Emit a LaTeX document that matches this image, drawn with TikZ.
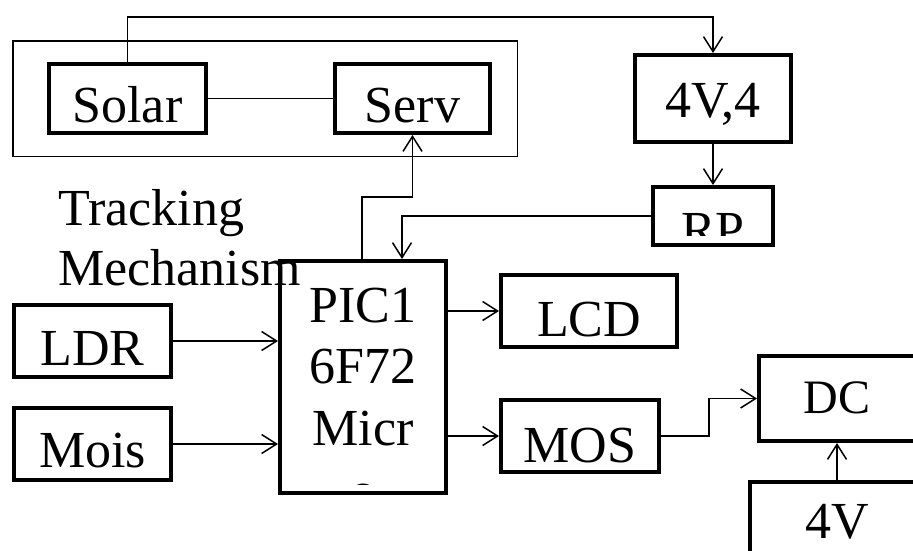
\documentclass[tikz,border=0pt]{standalone}
\usepackage{fontspec}
\setmainfont{Liberation Serif}
\usetikzlibrary{arrows.meta}

\tikzset{
  big/.style={font=\fontsize{52}{61}\selectfont},
  blk/.style={draw, line width=4pt, inner sep=0pt, big},
  wire/.style={line width=1.5pt},
  arr/.style={wire, -{Straight Barb[length=15pt,width=19pt,line width=1.5pt]}},
}

\begin{document}
\begin{tikzpicture}[x=1pt, y=-1pt]
\useasboundingbox (0,0) rectangle (913,550);
\clip (0,0) rectangle (913,550);

%% Tracking Mechanism %%%%%%%%%%%%%%%%%%%%%%%
\draw[wire] (12.75,40.75) rectangle (517.25,156.25);

\node[blk, minimum width=157pt, text height=58pt, text depth=11pt] (solar) at (127.5,98.5) {Solar};
\node[blk, minimum width=155pt, text height=58pt, text depth=11pt] (serv) at (412.5,98.5) {Serv};

\node[big, anchor=base west, inner sep=0pt] (track) at (58,225) {Tracking};
\node[big, anchor=base west, inner sep=0pt] (mech) at (58,285) {Mechanism};

%% Supply %%%%%%%%%%%%%%%%%%%%%%%
\node[blk, minimum width=156pt, text height=62pt, text depth=25pt] (supply) at (713,98.5) {4V,4};
\node[blk, minimum width=120pt, minimum height=58pt] (rp) at (713,216) {};
\begin{scope}
  \clip (655,189) rectangle (771,235);
  \node[big, anchor=base, inner sep=0pt] (rplabel) at (713,247) {RP};
\end{scope}

%% Controller %%%%%%%%%%%%%%%%%%%%%%%
\node[blk, minimum width=166pt, minimum height=232pt] (pic) at (363,377) {};
\node[big, anchor=base, inner sep=0pt] (picA) at (363,322) {PIC1};
\node[big, anchor=base, inner sep=0pt] (picB) at (363,383) {6F72};
\node[big, anchor=base, inner sep=0pt] (picC) at (363,445) {Micr};
\begin{scope}
  \clip (282,263) rectangle (444,484);
  \node[big, anchor=base, inner sep=0pt] (picD) at (363,508) {o};
\end{scope}

%% Inputs
\node[blk, minimum width=157pt, text height=60pt, text depth=12pt] (ldr) at (92.5,341) {LDR};
\node[blk, minimum width=157pt, text height=59pt, text depth=13pt] (mois) at (92.5,444) {Mois};

%% Outputs
\node[blk, minimum width=176pt, text height=61pt, text depth=11pt] (lcd) at (589,311) {LCD};
\node[blk, minimum width=158pt, text height=62pt, text depth=10pt] (mos) at (580,436) {MOS};
\node[blk, font=\fontsize{48}{58}\selectfont, minimum width=156pt, text height=57pt, text depth=28pt] (dc) at (837,398.5) {DC};
\node[blk, minimum width=174pt, text height=56pt, text depth=62pt] (batt) at (837,541) {4V};

%% Wires
\draw[arr] (solar.north) -- ++(0,-45) -| (supply.north);
\draw[wire] (solar.east) -- (serv.west);
\draw[arr] ([xshift=-1pt]pic.north) -- ++(0,-62) -| (serv.south);
\draw[arr] (rp.west) -| ([xshift=39pt]pic.north);
\draw[arr] (supply.south) -- (rp.north);
\draw[arr] (ldr.east) -- (ldr.east -| pic.west);
\draw[arr] (mois.east) -- (mois.east -| pic.west);
\draw[arr] (pic.east |- lcd.west) -- (lcd.west);
\draw[arr] (pic.east |- mos.west) -- (mos.west);
\draw[arr] (mos.east) -- ++(48,0) |- (dc.west);
\draw[arr] (batt.north) -- (dc.south);

\end{tikzpicture}
\end{document}
